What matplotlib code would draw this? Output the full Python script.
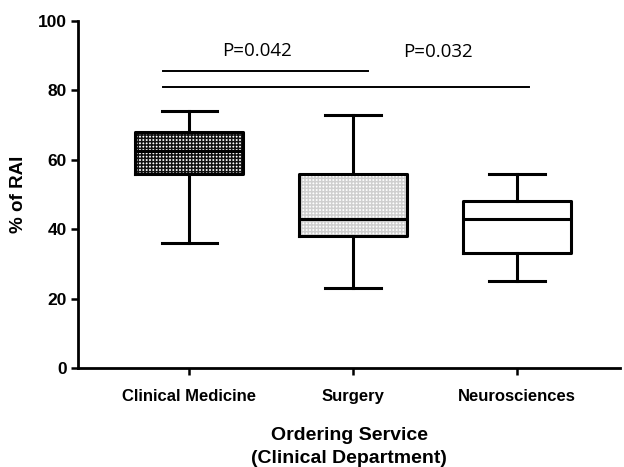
import matplotlib.pyplot as plt
import numpy as np

# Five-number summaries per ordering service (% of RAI)
services = ['Clinical Medicine', 'Surgery', 'Neurosciences']
whisker_low = [36, 23, 25]
q1 = [56, 38, 33]
median = [62.5, 43, 43]
q3 = [68, 56, 48]
whisker_high = [74, 73, 56]

# Significance brackets: (x start, x end, y, label, label x, label y)
brackets = [
    (0.84, 2.09, 85.5, 'P=0.042', 1.41, 91.5),
    (0.84, 3.07, 81.0, 'P=0.032', 2.52, 91.0),
]

plt.rcParams['font.family'] = ['Liberation Sans', 'DejaVu Sans']
plt.rcParams['hatch.linewidth'] = 1.1

fig = plt.figure(figsize=(6.24, 4.67), dpi=100)
ax = fig.add_axes([0.125, 0.212, 0.869, 0.743])

stats = []
for i, name in enumerate(services):
    stats.append({
        'label': name,
        'whislo': whisker_low[i],
        'q1': q1[i],
        'med': median[i],
        'q3': q3[i],
        'whishi': whisker_high[i],
        'fliers': [],
    })

positions = np.arange(1, len(services) + 1)
# (face colour, hatch colour, hatch)
fills = [('white', '#111111', '+++++'), ('white', '#cfcfcf', '+++++'), ('white', 'white', None)]

# hatched fills first, then the black outlines on top
fill_parts = ax.bxp(stats, positions=positions, widths=0.66, patch_artist=True,
                    showcaps=False, boxprops=dict(linewidth=0),
                    whiskerprops=dict(linewidth=0), medianprops=dict(linewidth=0))
for box, (fc, hc, hatch) in zip(fill_parts['boxes'], fills):
    box.set_facecolor(fc)
    box.set_edgecolor(hc)
    box.set_linewidth(0)
    if hatch:
        box.set_hatch(hatch)

line = dict(color='black', linewidth=2.2)
ax.bxp(stats, positions=positions, widths=0.66, capwidths=0.34,
       boxprops=line, whiskerprops=line, capprops=line,
       medianprops=dict(color='black', linewidth=2.2))

for x0, x1, y, label, tx, ty in brackets:
    ax.plot([x0, x1], [y, y], color='black', linewidth=1.4)
    ax.text(tx, ty, label, fontsize=13.5, family=['Open Sans', 'DejaVu Sans'],
            ha='center', va='center')

ax.set_xlim(0.32, 3.63)
ax.set_ylim(0, 100)
ax.set_yticks([0, 20, 40, 60, 80, 100])
ax.set_xticks(positions)
ax.set_xticklabels(services, fontweight='bold', fontsize=12)
for lbl in ax.get_yticklabels():
    lbl.set_fontweight('bold')
    lbl.set_fontsize(12.5)
ax.tick_params(axis='both', width=1.8, length=5, direction='out', pad=3)
ax.tick_params(axis='x', pad=10)

ax.set_ylabel('% of RAI', fontsize=13.5, fontweight='bold', labelpad=8)
ax.set_xlabel('Ordering Service\n(Clinical Department)', fontsize=14,
              fontweight='bold', labelpad=17, linespacing=1.4)

for side in ['top', 'right']:
    ax.spines[side].set_visible(False)
for side in ['left', 'bottom']:
    ax.spines[side].set_linewidth(2)

fig.savefig('out.png', dpi=100)
